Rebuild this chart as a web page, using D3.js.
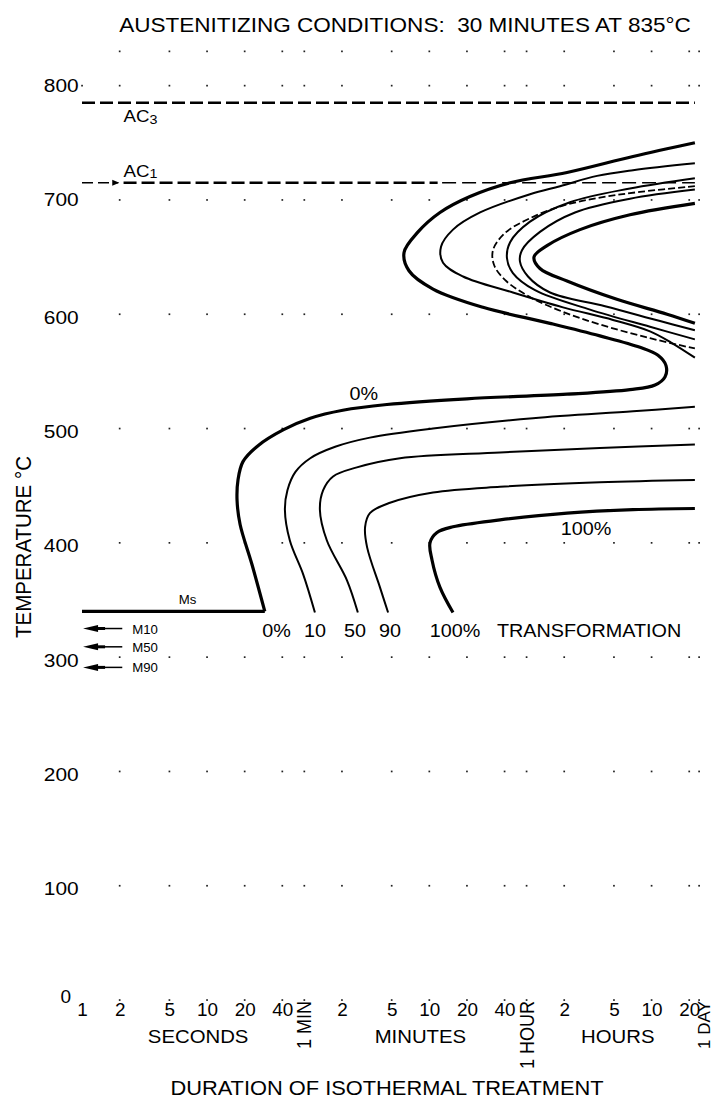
<!DOCTYPE html>
<html><head><meta charset="utf-8">
<script src="https://cdn.jsdelivr.net/npm/d3@7"></script>
<style>
body{margin:0;background:#fff}
svg{display:block}
text{font-family:"Liberation Sans",Arial,sans-serif;fill:#000;white-space:pre}
</style>
</head><body>
<svg id="c" width="715" height="1108"></svg>
<script>
// ---------- data ----------
const title = "AUSTENITIZING CONDITIONS:  30 MINUTES AT 835°C";
const yTickValues = [0,100,200,300,400,500,600,700,800];
const gridTemps = [0,100,200,300,400,500,600,700,800,830];
const gridTimes = [2,5,10,20,40,60,120,300,600,1200,2400,3600,7200,18000,36000,72000,86400];
const xTickTimes = [1,2,5,10,20,40,120,300,600,1200,2400,7200,18000,36000,72000];
const xTickLabels = ["1","2","5","10","20","40","2","5","10","20","40","2","5","10","20"];
const unitTimes = [60,3600,86400];
const unitLabels = ["1 MIN","1 HOUR","1 DAY"];
const groupLabels = ["SECONDS","MINUTES","HOURS"];
const groupRanges = [[1,60],[60,3600],[3600,86400]];

const AC3 = 785, AC1 = 715, MS = 340, msEndTime = 29;
const tStart = 1, tEnd = 80000;
const mLabels = ["M10","M50","M90"];
const mTemps = [325,309,291];

// [seconds, °C]
const zeroPct = [[80000,750],[25600,738],[7590,724],[2660,715],[1270,703],[731,689],[488,672],[377,654],[413,638],[643,622],[1614,606],[5550,592],[13900,581],[29100,571],[40550,564],[47000,555],[46100,545],[38400,538],[24200,534],[7590,530],[1200,526],[275,521],[122,516],[67,509],[41,499],[25.6,485],[19.4,471],[17.7,455],[17.4,437],[18.4,416],[22.9,381],[29,340]];
const tenPearlite = [[80000,732],[25600,726],[13200,721],[6670,712],[3840,705],[1530,689],[929,674],[745,659],[773,645],[1117,633],[2800,619],[7050,606],[17700,595],[35000,585],[52000,575],[80000,562]];
const dashedPearlite = [[80000,712],[29100,707],[13900,702],[7050,695],[3840,684],[2420,671],[1940,656],[1980,643],[2420,630],[3840,615],[7050,602],[13900,591],[35000,579],[80000,570]];
const fiftyPearlite = [[80000,719],[24200,710],[8020,698],[3840,681],[2660,663],[2510,649],[2800,636],[4210,621],[11600,604],[35000,589],[80000,578]];
const ninetyPearlite = [[80000,709],[24200,701],[8790,689],[4610,672],[3310,656],[3190,646],[3700,633],[5550,619],[15300,607],[42100,594],[80000,586]];
const hundredPearlite = [[80000,697],[24200,687],[9640,674],[5250,660],[4130,650],[4610,640],[7590,629],[19000,613],[47900,600],[80000,592]];
const tenBainite = [[73,339],[59,372],[46,402],[42,429],[44,446],[51,462],[67,474],[106,484],[201,492],[643,500],[4060,509],[25600,515],[80000,519]];
const fiftyBainite = [[161,339],[132,367],[91,402],[80,429],[85,446],[102,458],[158,466],[350,474],[2210,479],[13900,483],[80000,486]];
const ninetyBainite = [[281,339],[242,361],[191,396],[184,414],[201,426],[291,435],[643,444],[2210,449],[13900,453],[80000,455]];
const hundredBainite = [[929,339],[731,361],[631,385],[608,400],[692,409],[929,414],[2210,420],[7590,426],[25600,429],[80000,430]];

const bottomLabels = ["0%","10","50","90","100%","TRANSFORMATION"];
const bottomLabelTimes = [36,73,153,291,964,11400];
const bottomLabelTemp = 318;

// ---------- drawing ----------
const SX = 1.1;
const svg = d3.select("#c");
svg.append("rect").attr("width",715).attr("height",1108).attr("fill","#fff");

const x = d3.scaleLog().domain([1,1e5]).range([82,707]);
const y = d3.scaleLinear().domain([0,800]).range([1000,85.6]);

function txt(px, py, s, size, anchor, sx) {
  return svg.append("text")
    .attr("transform", `translate(${px},${py}) scale(${sx || SX},1)`)
    .attr("text-anchor", anchor || "start")
    .style("font-size", size + "px")
    .text(s);
}

// title
txt(405, 32, title, 20.5, "middle");

// grid dots
const dots = [[1,800]];
gridTemps.forEach(T => gridTimes.forEach(t => dots.push([t,T])));
svg.append("g").selectAll("rect").data(dots).join("rect")
  .attr("x", d => x(d[0]) - 0.8).attr("y", d => y(d[1]) - 0.8)
  .attr("width", 1.7).attr("height", 1.7).attr("fill", "#222");

// y axis labels
const yAxis = svg.append("g").attr("transform","translate(82,0)")
  .call(d3.axisLeft(y).tickValues(yTickValues).tickSize(0).tickPadding(3).tickFormat(d3.format("d")));
yAxis.select(".domain").remove();
yAxis.selectAll("text").style("font-size","19px").style("font-family","Liberation Sans, Arial, sans-serif")
  .attr("fill","#000")
  .attr("transform", d => d === 0 ? "translate(-8,-4)" : (d >= 700 ? `scale(${SX},1)` : `translate(0,3) scale(${SX},1)`));

// y title
svg.append("text").attr("transform","translate(31,547) rotate(-90) scale(1,1.05)")
  .attr("text-anchor","middle").style("font-size","20.5px").text("TEMPERATURE °C");

// x axis numeric labels
const xAxis = svg.append("g").attr("transform","translate(0,1000)")
  .call(d3.axisBottom(x).tickValues(xTickTimes).tickSize(0).tickPadding(3)
    .tickFormat(d => xTickLabels[xTickTimes.indexOf(d)]));
xAxis.select(".domain").remove();
xAxis.selectAll("text").style("font-size","18px").style("font-family","Liberation Sans, Arial, sans-serif")
  .attr("fill","#000").attr("transform","scale(1.05,1)");

// rotated unit labels
unitTimes.forEach((t,i) => {
  const last = i === unitTimes.length - 1;
  const px = last ? x(t) + 5 : x(t);
  svg.append("text").attr("transform",`translate(${px},1001) rotate(-90)` + (last ? "" : " scale(1,1.1)"))
    .attr("text-anchor","end").attr("dy","0.36em").style("font-size", last ? "17px" : "18px").text(unitLabels[i]);
});
// group labels
groupRanges.forEach((r,i) => {
  txt(x(Math.sqrt(r[0]*r[1])) + 5, 1043, groupLabels[i], 18.5, "middle");
});
txt(387, 1095, "DURATION OF ISOTHERMAL TREATMENT", 19.5, "middle", 1.12);

// AC3 line
svg.append("line").attr("x1",x(tStart)).attr("x2",x(tEnd)).attr("y1",y(AC3)).attr("y2",y(AC3))
  .attr("stroke","#000").attr("stroke-width",2.6).attr("stroke-dasharray","13,5");
// AC1 line: thin lead-in with arrow, thick dashes, then thinner dashes
svg.append("line").attr("x1",x(tStart)).attr("x2",x(1.95)).attr("y1",y(AC1)).attr("y2",y(AC1))
  .attr("stroke","#000").attr("stroke-width",1.4).attr("stroke-dasharray","11,5");
svg.append("path").attr("d",`M${x(1.95)-6},${y(AC1)-3}L${x(1.95)+1},${y(AC1)}L${x(1.95)-6},${y(AC1)+3}Z`).attr("fill","#000");
svg.append("line").attr("x1",x(2.15)).attr("x2",x(700)).attr("y1",y(AC1)).attr("y2",y(AC1))
  .attr("stroke","#000").attr("stroke-width",2.6).attr("stroke-dasharray","13,5");
svg.append("line").attr("x1",x(760)).attr("x2",x(tEnd)).attr("y1",y(AC1)).attr("y2",y(AC1))
  .attr("stroke","#000").attr("stroke-width",1.5).attr("stroke-dasharray","14,6");

// AC labels
const ac3 = txt(x(2.15), y(AC3) + 19, "AC", 17);
ac3.append("tspan").attr("dy",2).style("font-size","13px").text("3");
const ac1 = txt(x(2.15), y(AC1) - 6, "AC", 17);
ac1.append("tspan").attr("dy",1).style("font-size","13px").text("1");

// Ms line
svg.append("line").attr("x1",x(tStart)).attr("x2",x(msEndTime)).attr("y1",y(MS)).attr("y2",y(MS))
  .attr("stroke","#000").attr("stroke-width",3.2);
txt(x(7), y(MS) - 7, "Ms", 12, "middle");

// Martensite arrows
mTemps.forEach((T,i) => {
  const yy = y(T), x0 = x(1.02), x1 = x(2.1);
  svg.append("line").attr("x1",x0+10).attr("x2",x1).attr("y1",yy).attr("y2",yy).attr("stroke","#000").attr("stroke-width",1.5);
  svg.append("path").attr("d",`M${x0},${yy}L${x0+15},${yy-3.5}L${x0+15},${yy+3.5}Z`).attr("fill","#000");
  svg.append("line").attr("x1",x0+10).attr("x2",x0+22).attr("y1",yy).attr("y2",yy).attr("stroke","#000").attr("stroke-width",3);
  txt(x1 + 10, yy + 5, mLabels[i], 12);
});

// curves
const line = d3.line().x(d => x(d[0])).y(d => y(d[1])).curve(d3.curveCatmullRom.alpha(0.5));
const curves = [
  {d: zeroPct, w: 3.2},
  {d: tenPearlite, w: 2},
  {d: fiftyPearlite, w: 2},
  {d: ninetyPearlite, w: 2},
  {d: hundredPearlite, w: 3.2},
  {d: dashedPearlite, w: 1.8, dash: "7,3"},
  {d: tenBainite, w: 2},
  {d: fiftyBainite, w: 2},
  {d: ninetyBainite, w: 2},
  {d: hundredBainite, w: 3.2}
];
svg.append("g").selectAll("path").data(curves).join("path")
  .attr("d", c => line(c.d)).attr("fill","none").attr("stroke","#000")
  .attr("stroke-width", c => c.w).attr("stroke-dasharray", c => c.dash || null)
  .attr("stroke-linejoin","round");

// curve labels
txt(x(180), y(525), "0%", 18, "middle");
txt(x(10770), y(407), "100%", 18, "middle");
bottomLabels.forEach((s,i) => txt(x(bottomLabelTimes[i]), y(bottomLabelTemp), s, 18, "middle"));
</script>
</body></html>
